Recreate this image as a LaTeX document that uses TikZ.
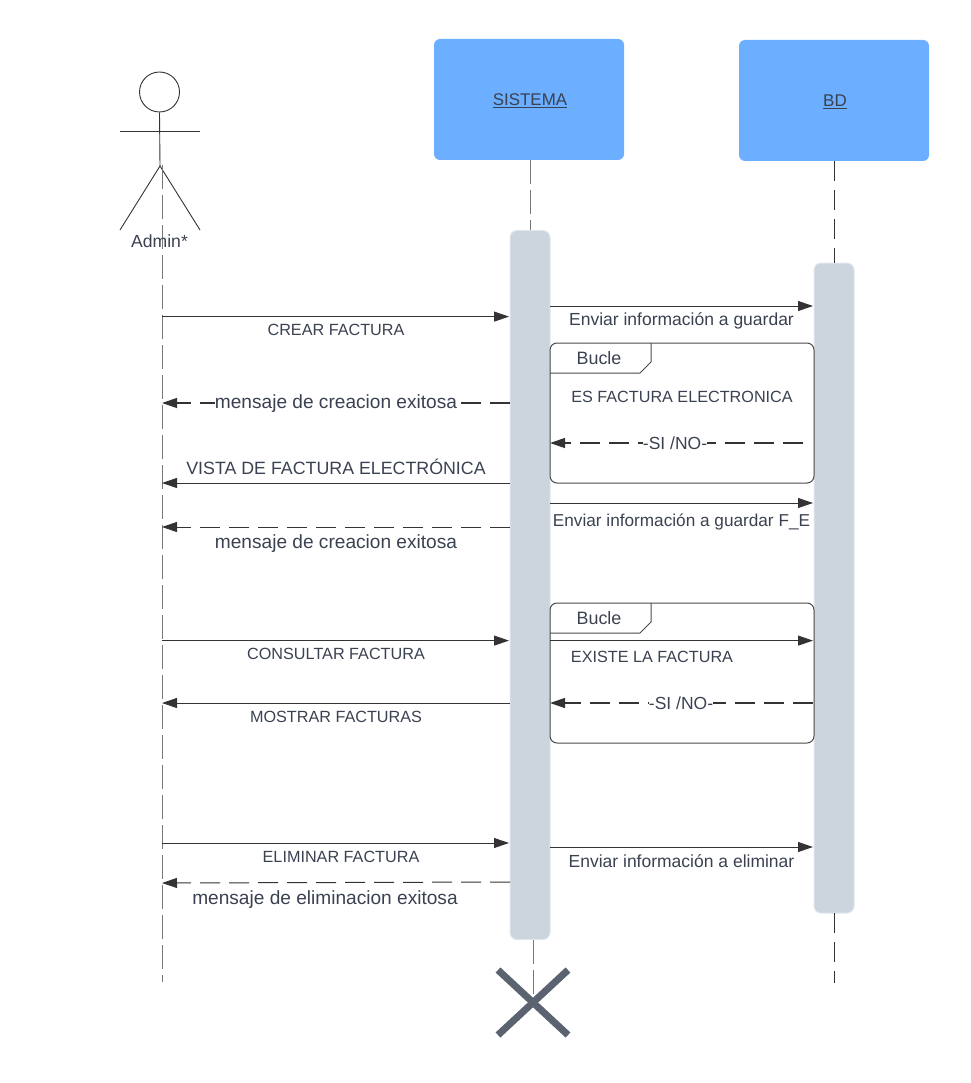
\documentclass[tikz,border=0pt]{standalone}
\usepackage{fontspec}
\setmainfont{Liberation Sans}
\usetikzlibrary{arrows.meta}
\definecolor{headblue}{HTML}{6CAEFF}
\definecolor{barfill}{HTML}{CCD5DE}
\definecolor{barline}{HTML}{E2E7ED}
\definecolor{ink}{HTML}{3A4150}
\definecolor{wire}{HTML}{333333}
\definecolor{framec}{HTML}{4A4A4A}
\definecolor{crossc}{HTML}{5B6270}
\definecolor{lifec}{HTML}{777777}
\tikzset{
  x=1pt,y=-1pt,
  txt/.style={text=ink,font=\fontsize{#1}{#1}\selectfont,inner sep=0pt},
  txt/.default=16.2,
  head/.style={fill=headblue,rounded corners=6pt,draw=none,inner sep=0pt},
  bar/.style={fill=barfill,draw=barline,line width=1pt,rounded corners=7pt,inner sep=0pt},
  life/.style={draw=lifec,line width=1pt,dash pattern=on 24pt off 6pt},
  lifeb/.style={draw=wire,line width=1pt,dash pattern=on 20pt off 9pt},
  msg/.style={draw=wire,line width=1pt,-{Triangle[length=15pt,width=10pt]}},
  dmsg/.style={msg,dash pattern=on 20pt off 9pt,line width=1.3pt},
  frame/.style={draw=framec,line width=1pt,rounded corners=7pt},
  tab/.style={draw=framec,line width=1pt},
  actor/.style={draw=wire,line width=0.9pt},
  cross/.style={draw=crossc,line width=7pt}
}
\begin{document}
\begin{tikzpicture}
\useasboundingbox (0,0) rectangle (970,1083);
% heads
\node[head,minimum width=190pt,minimum height=121pt] (sis) at (529,99.5) {};
\node[txt=16.9] (sist) at (530,100.5) {\underline{SISTEMA}};
\node[head,minimum width=190pt,minimum height=121pt] (bd) at (834,100.5) {};
\node[txt=17] (bdt) at (835,101.5) {\underline{BD}};
% bars
\node[bar,minimum width=40pt,minimum height=709pt] (barS) at (530,585) {};
\node[bar,minimum width=40pt,minimum height=650pt] (barB) at (834,588) {};
% actor
\node[circle,actor,minimum size=40pt,inner sep=0pt] (adminhead) at (159.5,92) {};
\coordinate (hip) at (160,166);
\coordinate (armL) at (120,131);
\coordinate (armR) at (200,131);
\coordinate (footL) at (120,230);
\coordinate (footR) at (200,230);
\draw[actor] (adminhead.south) -- (hip);
\draw[actor] (armL) -- (armR);
\draw[actor] (footL) -- (hip) -- (footR);
% lifelines
\coordinate (la0) at (162,165);
\coordinate (la1) at (162,982);
\draw[life] (la0) -- (la1);
\coordinate (ls0) at (530,160);
\draw[life] (ls0) -- (barS.north -| ls0);
\coordinate (ls1) at (533,940);
\coordinate (ls2) at (533,1003);
\draw[life] (ls1) -- (ls2);
\coordinate (lb0) at (834,161);
\draw[lifeb] (lb0) -- (barB.north);
\coordinate (lb1) at (834,913);
\coordinate (lb2) at (834,983);
\draw[lifeb] (lb1) -- (lb2);
\node[txt=17.6] (admin) at (159.5,241.5) {Admin*};
% cross
\coordinate (xa) at (498,970);
\coordinate (xb) at (568,1035);
\coordinate (xc) at (568,970);
\coordinate (xd) at (498,1035);
\draw[cross] (xa) -- (xb);
\draw[cross] (xc) -- (xd);
% frames
\draw[frame] (550,343) -- (814,343) -- (814,483) -- (550,483) -- cycle;
\draw[tab] (550,373) -- (640,373) -- (651,362) -- (651,343);
\node[txt=17.9] (b1) at (599,358.5) {Bucle};
\node[txt] (q1) at (682,396.5) {ES FACTURA ELECTRONICA};
\draw[frame] (550,603) -- (814,603) -- (814,743) -- (550,743) -- cycle;
\draw[tab] (550,633) -- (640,633) -- (651,622) -- (651,603);
\node[txt=17.9] (b2) at (599,618.5) {Bucle};
\node[txt] (q2) at (652,656.5) {EXISTE LA FACTURA};
% messages admin <-> system
\coordinate (a1) at (162,316.6); \coordinate (s1) at (509,316.6);
\draw[msg] (a1) -- (s1);
\node[txt] (t1) at (336,330) {CREAR FACTURA};
\coordinate (s2) at (510,403); \coordinate (a2) at (162,403);
\draw[dmsg] (s2) -- (a2);
\node[txt=19.1,fill=white] (t2) at (336,404) {mensaje de creacion exitosa};
\coordinate (s3) at (510,483); \coordinate (a3) at (162,483);
\draw[msg] (s3) -- (a3);
\node[txt=17.8] (t3) at (336,467) {VISTA DE FACTURA ELECTRÓNICA};
\coordinate (s4) at (510,527); \coordinate (a4) at (162,527);
\draw[msg,dash pattern=on 20pt off 9pt] (s4) -- (a4);
\node[txt=19.1] (t4) at (336,544) {mensaje de creacion exitosa};
\coordinate (a5) at (162,640.6); \coordinate (s5) at (509,640.6);
\draw[msg] (a5) -- (s5);
\node[txt] (t5) at (336,654) {CONSULTAR FACTURA};
\coordinate (s6) at (510,703); \coordinate (a6) at (162,703);
\draw[msg] (s6) -- (a6);
\node[txt] (t6) at (336,717) {MOSTRAR FACTURAS};
\coordinate (a7) at (162,843); \coordinate (s7) at (509,843);
\draw[msg] (a7) -- (s7);
\node[txt] (t7) at (341,857) {ELIMINAR FACTURA};
\coordinate (s8) at (510,882); \coordinate (a8) at (162,883);
\draw[msg,dash pattern=on 20pt off 9pt] (s8) -- (a8);
\node[txt=19.1] (t8) at (325,900) {mensaje de eliminacion exitosa};
% messages system <-> database
\coordinate (p1) at (550,306); \coordinate (d1) at (813,306);
\draw[msg] (p1) -- (d1);
\node[txt=17.5] (u1) at (681.5,320.5) {Enviar información a guardar};
\coordinate (d2) at (803,443); \coordinate (p2) at (550,443);
\draw[dmsg] (d2) -- (p2);
\node[txt=17.5,fill=white] (u2) at (675,443.5) {-SI /NO-};
\coordinate (p3) at (550,503); \coordinate (d3) at (813,503);
\draw[msg] (p3) -- (d3);
\node[txt=17.2] (u3) at (681.5,521.5) {Enviar información a guardar F\_E};
\coordinate (p4) at (550,640.6); \coordinate (d4) at (813,640.6);
\draw[msg] (p4) -- (d4);
\coordinate (d5) at (813,703); \coordinate (p5) at (550,703);
\draw[dmsg] (d5) -- (p5);
\node[txt=17.5,fill=white] (u5) at (681,703.5) {-SI /NO-};
\coordinate (p6) at (550,847); \coordinate (d6) at (813,847);
\draw[msg] (p6) -- (d6);
\node[txt=17.5] (u6) at (681.5,861.5) {Enviar información a eliminar};
\end{tikzpicture}
\end{document}
